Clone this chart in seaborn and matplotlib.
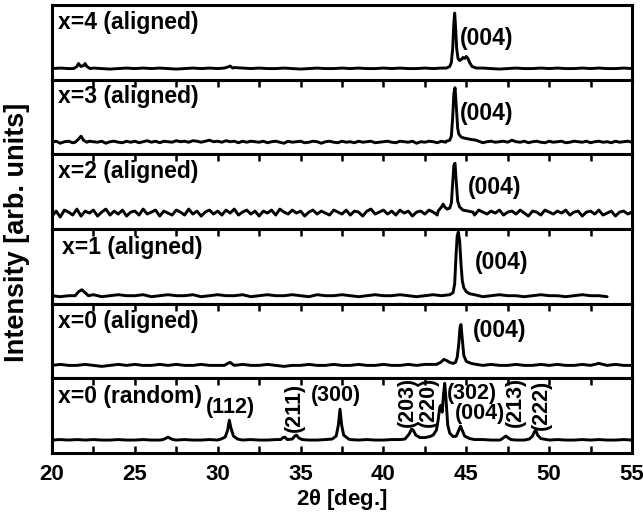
import numpy as np
import pandas as pd
import matplotlib
matplotlib.use("Agg")
import matplotlib.pyplot as plt
import seaborn as sns
from matplotlib.ticker import MultipleLocator

# ---------------- data (intensity in arbitrary units, baseline = 0) ----------------
# coarse baselines: every 0.5 deg from 20.0 to 55.0 (71 values)
# fine baselines:   every 0.25 deg from 20.0 to 55.0 (141 values)
base_x4 = [0, 0.5, 0, 0.5, 0, 0.5, 0, -0.5, 0, 0.5,
           0, 0.5, 0, 0.5, 0, -0.5, 0, 0.5, 0, 0.5,
           0, 0.5, 1, 0.5, 0, 0.5, 0, 0, 0.5, 0,
           -0.5, 0, 0.5, 0, 0, 0.5, 0, 0.5, 0, 0,
           0.5, 0, 0.5, 0, 0, 0.5, 0, 0.5, 0, 0,
           0.5, 0, 0.5, 0, -0.5, 0, 0.5, 0, 0, 0.5,
           0, 0.5, 0, 0, 0.5, 0, 0.5, 0, 0, 0.5,
           0]
peaks_x4_tt = [[21.3, 21.5, 21.6, 21.75, 21.9, 22.0, 22.1, 22.3],
               [30.4, 30.6, 30.75, 30.9],
               [43.8, 44.0, 44.1, 44.18, 44.25, 44.3, 44.35, 44.42, 44.5, 44.6,
                44.7, 44.8, 44.9, 45.0, 45.1, 45.2, 45.35, 45.6]]
peaks_x4_I = [[0, 2, 5, 2, 3, 5, 2, 0],
              [0.5, 1.5, 2.5, 0.5],
              [0.5, 2, 6, 20, 45, 55, 42, 20, 10, 8,
               9, 11, 10, 12, 10, 6, 2, 0.5]]

base_x3 = [0, 1, -1, 0.5, 1, -0.5, 1, 0, -1, 1,
           0.5, 0, 1, -1, 0.5, 1, 0, -0.5, 1, 0,
           1, -0.5, 0.5, 1.5, 0, 1, -0.5, 1, 0.5, 0,
           1.5, 0.5, 1, 0, 1.5, 1, 0, 1, 2, 0.5,
           1, 0, 1.5, 0.5, 1, -0.5, 1, 0, 1, 0.5,
           0, 1, -0.5, 0.5, 1, 0, -1, 1, 0, 0.5,
           1, -0.5, 0, 1, 0.5, -1, 0.5, 1, 0, -0.5,
           1, 0, 0.5, -0.5, 1, 0, 0.5, 1, -0.5, 0,
           0.5, 1, 0, -0.5, 1, 0.5, 0, 1, -1, 0.5,
           0, 1, 0.5, -0.5, 1, 0, 0.5, 1, 0, 0.5,
           1, 0.5, 0, 1, -0.5, 0.5, 1, 0, 0.5, 1,
           0, 2, 0.5, 0, 1, -0.5, 0.5, 1, 0, -0.5,
           1, 0, 0.5, 1, -0.5, 0, 1, 0.5, 0, 1,
           -0.5, 0.5, 1, 0, 0.5, -0.5, 1, 0, 0.5, 1,
           0]
peaks_x3_tt = [[21.4, 21.6, 21.75, 21.9, 22.1],
               [43.8, 44.0, 44.1, 44.18, 44.25, 44.32, 44.4, 44.48, 44.55, 44.7,
                44.9, 45.2, 45.6]]
peaks_x3_I = [[0, 3, 6, 2, 0],
              [1, 2, 6, 25, 48, 54, 35, 14, 8, 5,
               4, 3, 2]]

base_x2 = [-3, 2, -4, 3, 1, -2, 4, -3, 2, 0,
           3, -3, 1, 4, -2, 2, -1, 3, -3, 1,
           2, -2, 4, -1, 1, 3, -3, 2, 0, -2,
           3, 1, -2, 4, -1, 2, -3, 1, 3, -1,
           2, -2, 3, 0, 4, -2, 1, 3, -1, 2,
           -3, 2, 0, 3, -2, 4, 1, -1, 3, 0,
           2, -3, 1, 3, -1, 2, 0, -2, 3, 1,
           -1, 3, -2, 2, 1, -3, 2, 4, -1, 1,
           3, -1, 2, -2, 3, 0, 2, -3, 1, 2,
           -1, 3, 1, -2, 2, 0, 3, -2, 1, 2,
           0, 2, -2, 3, 1, -1, 2, 0, 3, -2,
           1, 2, -1, 3, 0, -3, 2, 1, -2, 3,
           1, -1, 2, 0, 3, -2, 1, 2, -3, 1,
           2, -1, 3, -2, 0, 2, -3, 1, 2, -1,
           1]
peaks_x2_tt = [[43.3, 43.5, 43.6, 43.7, 43.85, 44.0, 44.1, 44.18, 44.25, 44.32,
                44.4, 44.48, 44.6, 44.8, 45.1, 45.4]]
peaks_x2_I = [[2, 6, 9, 6, 4, 5, 10, 30, 48, 50,
               30, 12, 6, 3, 2, 1]]

base_x1 = [0, -1, 0, 1, 0, 1, -1, 0, 1, 0,
           0, 1, -1, 0, 1, 0, 0, 1, -1, 0,
           1, 0, 0, 1, -1, 0, 1, 0, 0, 1,
           0, -1, 1, 0, 0, 1, 0, -1, 0, 1,
           0, 0, 1, 0, -1, 0, 1, 0, 0, 0,
           1, 0, -1, 0, 1, 0, 0, -1, 0, 1,
           0, 0, -1, 0, 1, 0, 0, -1, np.nan, np.nan,
           np.nan]
peaks_x1_tt = [[21.4, 21.6, 21.8, 22.0, 22.2],
               [44.0, 44.2, 44.3, 44.38, 44.45, 44.52, 44.6, 44.68, 44.76, 44.85,
                45.0, 45.2, 45.5]]
peaks_x1_I = [[0, 4, 6, 3, 0],
              [1, 3, 12, 40, 60, 64, 55, 32, 15, 8,
               4, 2, 1]]

base_x0a = [0, 1, 0, 0, 1, 0, -1, 0, 1, 0,
            1, 0, 0, 1, 0, 1, 0, 0, 1, 0,
            0, 1, 0, 1, 0, 0, 1, 0, -1, 0,
            0, 1, 0, 0, 1, 0, 0, 1, 0, 0,
            1, 0, 0, 1, 0, 1, 1, 2, 3, 2,
            1, 0, 0, 1, 0, 0, 1, 0, 0, 1,
            0, 1, 0, 0, 1, 0, 2, 0, 1, 0,
            0]
peaks_x0a_tt = [[30.4, 30.6, 30.75, 30.95],
                [43.2, 43.45, 43.65, 43.8, 44.0, 44.2, 44.35, 44.45, 44.55, 44.62,
                 44.68, 44.75, 44.85, 45.0, 45.3, 45.6]]
peaks_x0a_I = [[0, 2, 3, 0.5],
               [1, 3, 6, 5, 3, 2, 3, 8, 22, 38,
                41, 28, 10, 4, 2, 1]]

base_x0r = [0, 0.5, 0, 0.5, 0, 0.5, 0, 0, 0.5, 0,
            0, 0.5, 0, 0, 0.5, 0, 0.5, 0, 0, 0.5,
            0, 0.5, 0, 0, 0.5, 0, 0, 0.5, 0, 0,
            0.5, 0, 0, 0.5, 0, 0, 0.5, 0, 0.5, 0,
            0, 0.5, 0.5, 1, 1.5, 2, 2, 1, 0.5, 0.5,
            0.5, 0, 0.5, 0, 0, 0.5, 0, 0, 0.5, 0,
            0, 0.5, 0, 0, 0.5, 0, 0.5, 0, 0, 0.5,
            0]
peaks_x0r_tt = [[26.7, 26.9, 27.0, 27.1, 27.3],
                [30.2, 30.45, 30.6, 30.7, 30.8, 30.95, 31.2],
                [33.8, 33.95, 34.05, 34.2, 34.5, 34.65, 34.75, 34.9, 35.1],
                [36.9, 37.15, 37.28, 37.38, 37.48, 37.6, 37.9],
                [41.3, 41.55, 41.7, 41.8, 41.95, 42.2, 42.5, 42.8, 43.0, 43.2,
                 43.3, 43.4, 43.47, 43.55, 43.62, 43.7, 43.78, 43.88, 44.0, 44.2,
                 44.4, 44.55, 44.65, 44.75, 44.9, 45.2, 45.5],
                [47.1, 47.3, 47.4, 47.5, 47.7],
                [48.8, 49.0, 49.1, 49.2, 49.3, 49.5]]
peaks_x0r_I = [[0.5, 2, 3, 2, 0.5],
               [1, 3, 10, 20, 12, 4, 1],
               [0.5, 2.5, 3, 0.5, 1, 4, 5, 2, 0.5],
               [1, 4, 15, 31, 15, 5, 1],
               [1, 6, 11, 10, 5, 2.5, 2.5, 3.5, 5, 10,
                20, 33, 35, 28, 45, 57, 40, 15, 7, 3.5,
                4, 10, 14, 10, 4, 1.5, 0.5],
               [0.5, 3, 4, 2.5, 0.5],
               [1, 4, 8, 10, 5, 1.5]]

panel_labels = ["x=4 (aligned)", "x=3 (aligned)", "x=2 (aligned)",
                "x=1 (aligned)", "x=0 (aligned)", "x=0 (random)"]
hkl_random = ["(112)", "(211)", "(300)", "(203)", "(220)", "(302)", "(004)", "(213)", "(222)"]
x_ticks = [20, 25, 30, 35, 40, 45, 50, 55]

# ---------------- assemble ----------------
grid_coarse = np.linspace(20.0, 55.0, 71)
grid_fine = np.linspace(20.0, 55.0, 141)


def build(base, pk_tt, pk_I):
    grid = grid_fine if len(base) == len(grid_fine) else grid_coarse
    keep = np.ones(len(grid), dtype=bool)
    for seg in pk_tt:
        keep &= ~((grid >= min(seg)) & (grid <= max(seg)))
    tt = list(grid[keep])
    inten = list(np.asarray(base, dtype=float)[keep])
    for s_tt, s_I in zip(pk_tt, pk_I):
        tt += list(s_tt)
        inten += list(s_I)
    df = pd.DataFrame({"tt": tt, "I": inten}).dropna().sort_values("tt")
    return df


panels = [
    (build(base_x4, peaks_x4_tt, peaks_x4_I), (-11, 63)),
    (build(base_x3, peaks_x3_tt, peaks_x3_I), (-12, 62)),
    (build(base_x2, peaks_x2_tt, peaks_x2_I), (-16, 59)),
    (build(base_x1, peaks_x1_tt, peaks_x1_I), (-8, 67)),
    (build(base_x0a, peaks_x0a_tt, peaks_x0a_I), (-13, 62)),
    (build(base_x0r, peaks_x0r_tt, peaks_x0r_I), (-13, 62)),
]

sns.set_theme(style="ticks")
plt.rcParams["font.family"] = ["Liberation Sans", "DejaVu Sans"]
plt.rcParams["font.weight"] = "bold"
plt.rcParams["mathtext.default"] = "regular"
plt.rcParams["text.color"] = "black"
plt.rcParams["axes.labelcolor"] = "black"
plt.rcParams["xtick.color"] = "black"
plt.rcParams["xtick.labelcolor"] = "black"

fig, axes = plt.subplots(6, 1, figsize=(6.43, 5.23), dpi=100, sharex=True)
fig.subplots_adjust(left=52 / 643, right=632 / 643, top=1 - 5 / 523,
                    bottom=1 - 453 / 523, hspace=0)

label_y = [0.77, 0.77, 0.77, 0.75, 0.76, 0.75]
label_x = [0.01, 0.01, 0.01, 0.018, 0.01, 0.01]
tag_pos = [(44.62, 0.55), (44.62, 0.55), (45.1, 0.56), (45.5, 0.55), (45.4, 0.64)]

for i, (ax, (df, ylim)) in enumerate(zip(axes, panels)):
    sns.lineplot(data=df, x="tt", y="I", ax=ax, color="black", lw=2.1,
                 estimator=None, sort=False)
    ax.set_xlim(20, 55)
    ax.set_ylim(*ylim)
    ax.set_yticks([])
    ax.set_ylabel("")
    ax.set_xlabel("")
    for sp in ax.spines.values():
        sp.set_visible(True)
        sp.set_linewidth(2.2)
        sp.set_color("black")
    ax.xaxis.set_major_locator(MultipleLocator(5))
    ax.xaxis.set_minor_locator(MultipleLocator(2.5))
    top = i > 0
    bottom = i == 5
    ax.tick_params(axis="x", which="both", direction="in", top=top, bottom=bottom,
                   labelbottom=bottom, length=5, width=1.8, color="black")
    ax.text(label_x[i], label_y[i], panel_labels[i], transform=ax.transAxes,
            ha="left", va="center", fontsize=16.5, fontweight="bold")
    if i < 5:
        tx, ty = tag_pos[i]
        ax.text(tx, ty, "(004)", transform=ax.get_xaxis_transform(),
                ha="left", va="center", fontsize=16.5, fontweight="bold")

axr = axes[5]
ann = [  # (x, y, ha, rotation)
    (30.74, 33, "center", 0),
    (34.6, 33, "center", 90),
    (37.15, 45, "center", 0),
    (41.45, 38, "center", 90),
    (42.7, 38, "center", 90),
    (43.85, 47, "left", 0),
    (44.3, 27, "left", 0),
    (47.95, 38, "center", 90),
    (49.55, 35, "center", 90),
]
for lab, (x, y, ha, rot) in zip(hkl_random, ann):
    axr.text(x, y, lab, ha=ha, va="center", rotation=rot, fontsize=15.5,
             fontweight="bold")

axr.set_xticks(x_ticks)
axr.set_xticklabels([str(t) for t in x_ticks], fontsize=16, fontweight="bold")
axr.tick_params(axis="x", which="major", pad=8)

fig.text(342 / 643, 1 - 500 / 523, r"2$\theta$ [deg.]", ha="center", va="center",
         fontsize=16, fontweight="bold")
fig.text(17 / 643, 1 - 232 / 523, "Intensity [arb. units]", ha="center", va="center",
         rotation=90, fontsize=19.5, fontweight="bold")

fig.savefig("out.png", dpi=100)
